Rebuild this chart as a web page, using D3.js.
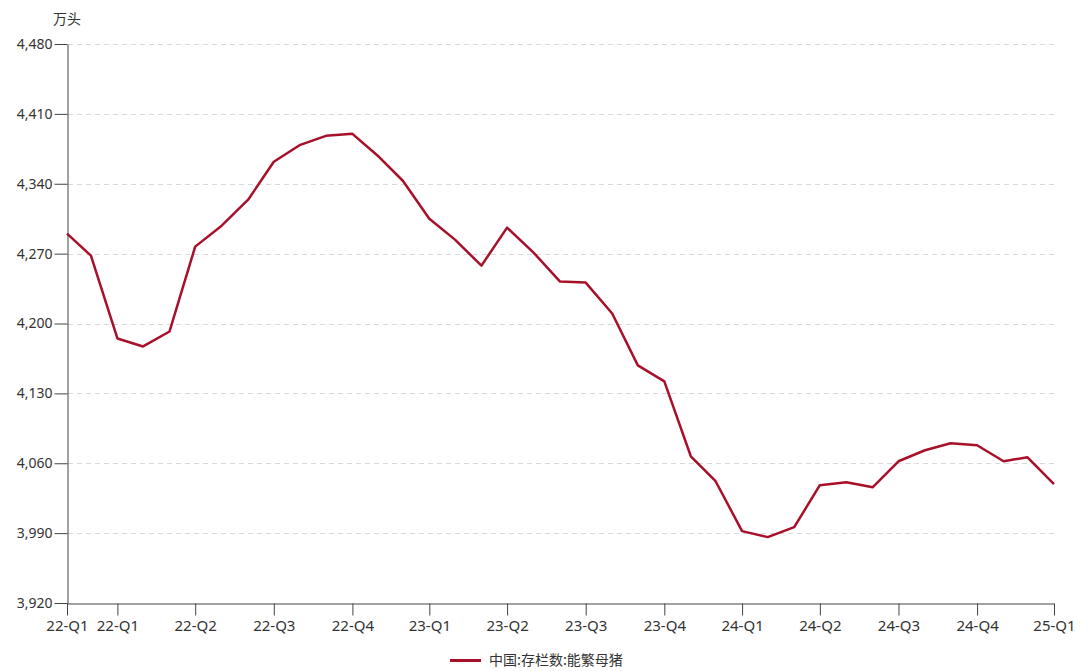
<!DOCTYPE html>
<html>
<head>
<meta charset="utf-8">
<script src="https://cdn.jsdelivr.net/npm/d3@7/dist/d3.min.js"></script>
<style>
  html, body { margin: 0; padding: 0; background: #fff; }
  svg { display: block; }
  text { font-family: "Noto Sans", "Noto Sans CJK SC", sans-serif; fill: #333; }
</style>
</head>
<body>
<svg id="chart" width="1091" height="671"></svg>
<script>
// ---- data ----
const dates = [
  "2022-01-31","2022-02-28","2022-03-31","2022-04-30","2022-05-31","2022-06-30",
  "2022-07-31","2022-08-31","2022-09-30","2022-10-31","2022-11-30","2022-12-31",
  "2023-01-31","2023-02-28","2023-03-31","2023-04-30","2023-05-31","2023-06-30",
  "2023-07-31","2023-08-31","2023-09-30","2023-10-31","2023-11-30","2023-12-31",
  "2024-01-31","2024-02-29","2024-03-31","2024-04-30","2024-05-31","2024-06-30",
  "2024-07-31","2024-08-31","2024-09-30","2024-10-31","2024-11-30","2024-12-31",
  "2025-01-31","2025-02-28","2025-03-31"
];
const sowInventory = [
  4290, 4268, 4185, 4177, 4192, 4277, 4298, 4324, 4362, 4379, 4388, 4390,
  4367, 4343, 4305, 4284, 4258, 4296, 4271, 4242, 4241, 4210, 4158, 4142,
  4067, 4042, 3992, 3986, 3996, 4038, 4041, 4036, 4062, 4073, 4080, 4078,
  4062, 4066, 4039
];
const seriesName = "中国:存栏数:能繁母猪";
const unitLabel = "万头";
const tickDates = [
  "2022-01-31","2022-03-31","2022-06-30","2022-09-30","2022-12-31",
  "2023-03-31","2023-06-30","2023-09-30","2023-12-31",
  "2024-03-31","2024-06-30","2024-09-30","2024-12-31","2025-03-31"
];
const tickLabels = [
  "22-Q1","22-Q1","22-Q2","22-Q3","22-Q4",
  "23-Q1","23-Q2","23-Q3","23-Q4",
  "24-Q1","24-Q2","24-Q3","24-Q4","25-Q1"
];
const yTicks = [3920, 3990, 4060, 4130, 4200, 4270, 4340, 4410, 4480];

// ---- layout ----
const parse = d3.utcParse("%Y-%m-%d");
const data = dates.map((d, i) => ({ date: parse(d), value: sowInventory[i] }));
const tickDateObjs = tickDates.map(parse);

const mLeft = 67, mRight = 1054, mTop = 44, mBottom = 603;
const svg = d3.select("#chart");

const x = d3.scaleUtc()
  .domain([data[0].date, data[data.length - 1].date])
  .range([mLeft, mRight]);
const y = d3.scaleLinear().domain([3920, 4480]).range([mBottom, mTop]);

// gridlines
svg.append("g")
  .selectAll("line")
  .data(yTicks.slice(1))
  .join("line")
  .attr("x1", mLeft + 1).attr("x2", mRight)
  .attr("y1", d => Math.round(y(d)) + 0.5).attr("y2", d => Math.round(y(d)) + 0.5)
  .attr("stroke", "#d9d9d9")
  .attr("stroke-width", 1)
  .attr("stroke-dasharray", "5,4");

// y axis
const yAxis = svg.append("g")
  .attr("transform", `translate(${mLeft + 0.5},0)`)
  .call(d3.axisLeft(y).tickValues(yTicks).tickFormat(d3.format(",")).tickSize(13).tickPadding(2).tickSizeOuter(0));
yAxis.select(".domain").attr("stroke", "#444");
yAxis.selectAll(".tick line").attr("stroke", "#444");
yAxis.selectAll(".tick text").attr("font-size", 14).style("fill", "#333");

// x axis
const xAxis = svg.append("g")
  .attr("transform", `translate(0,${mBottom + 0.5})`)
  .call(d3.axisBottom(x).tickValues(tickDateObjs)
    .tickFormat((d, i) => tickLabels[i]).tickSize(12).tickPadding(5).tickSizeOuter(0));
xAxis.select(".domain").attr("stroke", "#444");
xAxis.selectAll(".tick line").attr("stroke", "#444");
xAxis.selectAll(".tick text").attr("font-size", 15).style("fill", "#333");

// unit label
svg.append("text")
  .attr("x", 67).attr("y", 24)
  .attr("text-anchor", "middle")
  .attr("font-size", 14)
  .style("font-family", "'Noto Sans CJK SC', sans-serif")
  .text(unitLabel);

// line
const line = d3.line().x(d => x(d.date)).y(d => y(d.value));
svg.append("path")
  .datum(data)
  .attr("fill", "none")
  .attr("stroke", "#a8102a")
  .attr("stroke-width", 2.5)
  .attr("stroke-linejoin", "round")
  .attr("d", line);

// legend
const lg = svg.append("g").attr("transform", "translate(450,660.5)");
lg.append("line").attr("x1", 0).attr("x2", 31).attr("y1", 0).attr("y2", 0)
  .attr("stroke", "#a8102a").attr("stroke-width", 3);
lg.append("text").attr("x", 39).attr("y", 0).attr("dy", "0.35em")
  .attr("font-size", 14)
  .style("font-family", "'Noto Sans CJK SC', sans-serif")
  .text(seriesName);
</script>
</body>
</html>
